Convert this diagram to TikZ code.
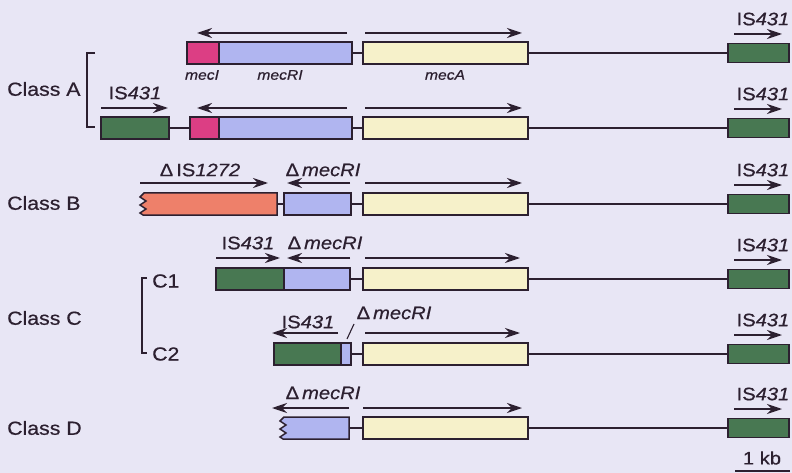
\documentclass[tikz,border=0pt]{standalone}
\usepackage{fontspec}
\setmainfont[FakeStretch=1.12,FakeBold=0.6]{Liberation Sans}
\usetikzlibrary{arrows.meta}
\definecolor{bgcol}{RGB}{232,230,245}
\definecolor{mecIcol}{RGB}{220,62,132}
\definecolor{mecRIcol}{RGB}{176,181,240}
\definecolor{mecAcol}{RGB}{246,241,202}
\definecolor{IScol}{RGB}{72,120,82}
\definecolor{ISBcol}{RGB}{238,128,106}
\definecolor{ink}{RGB}{44,32,48}
\tikzset{
  gene/.style={draw=ink, line width=1.5pt, rectangle, inner sep=0pt, outer sep=0pt, minimum height=22pt},
  rgene/.style={draw=ink, line width=1.5pt, rectangle, inner sep=0pt, outer sep=0pt, minimum height=19pt, minimum width=61pt, fill=IScol, anchor=west},
  arr/.style={draw=ink, line width=1.7pt, -{Stealth[length=15pt,width=10pt,inset=5pt,fill=ink]}},
  lnk/.style={draw=ink, line width=1.2pt},
  big/.style={font=\fontsize{18}{20}\selectfont, inner sep=0pt, text=ink},
  small/.style={font=\fontsize{14}{16}\selectfont\itshape, inner sep=0pt, text=ink},
  cls/.style={font=\fontsize{19}{21}\selectfont, inner sep=0pt, anchor=west, text=ink},
  brk/.style={draw=ink, line width=1.3pt},
}
\newcommand{\ISlbl}{IS\textit{431}}
\newcommand{\dmec}{Δ\,\textit{mecRI}}
\begin{document}
\begin{tikzpicture}[x=1pt,y=-1pt]
\fill[bgcol] (0,0) rectangle (792,473);
\useasboundingbox (0,0) rectangle (792,473);

% ---------- class labels ----------
\node[cls] (clA) at (7,89) {Class A};
\node[cls] (clB) at (7,203) {Class B};
\node[cls] (clC) at (7,318) {Class C};
\node[cls] (clD) at (7,428) {Class D};
\draw[brk] (95,53) -- (87,53) -- (87,127) -- (95,127);
\draw[brk] (147,278) -- (142,278) -- (142,353) -- (147,353);
\node[cls] (c1) at (152,281) {C1};
\node[cls] (c2) at (152,354) {C2};

% ---------- right IS431 column ----------
\foreach \r/\y in {1/53,2/128,3/204,4/279,5/354,6/428}{
  \node[rgene] (R\r) at (728,\y) {};
  \draw[arr] (734,\y-19) -- (782,\y-19);
  \node[big] at (763,\y-34) {\ISlbl};
}

% ---------- Class A, row 1 ----------
\node[gene, fill=mecIcol, minimum width=32pt, anchor=west] (a1I) at (187,53) {};
\node[gene, fill=mecRIcol, minimum width=133pt, anchor=west] (a1R) at (a1I.east) {};
\node[gene, fill=mecAcol, minimum width=165pt, anchor=west] (a1A) at (363,53) {};
\draw[lnk] (a1R.east) -- (a1A.west);
\draw[lnk] (a1A.east) -- (R1.west);
\draw[arr] (347,33) -- (197,33);
\draw[arr] (365,33) -- (522,33);
\node[small] at (202,75) {mecI};
\node[small] at (280,75) {mecRI};
\node[small] at (445,75) {mecA};

% ---------- Class A, row 2 ----------
\node[gene, fill=IScol, minimum width=68pt, anchor=west] (a2S) at (101,128) {};
\node[gene, fill=mecIcol, minimum width=29pt, anchor=west] (a2I) at (190,128) {};
\node[gene, fill=mecRIcol, minimum width=133pt, anchor=west] (a2R) at (a2I.east) {};
\node[gene, fill=mecAcol, minimum width=165pt, anchor=west] (a2A) at (363,128) {};
\draw[lnk] (a2S.east) -- (a2I.west);
\draw[lnk] (a2R.east) -- (a2A.west);
\draw[lnk] (a2A.east) -- (R2.west);
\draw[arr] (101,108) -- (168,108);
\draw[arr] (347,108) -- (197,108);
\draw[arr] (365,108) -- (522,108);
\node[big] at (135,93) {\ISlbl};

% ---------- Class B ----------
\fill[ISBcol] (277,193) -- (144,193) -- (140,197) -- (146,201) -- (140,205) -- (146,209) -- (140,213) -- (143,215) -- (277,215) -- cycle;
\draw[ink, line width=1.5pt, line join=miter] (277,193) -- (144,193) -- (140,197) -- (146,201) -- (140,205) -- (146,209) -- (140,213) -- (143,215) -- (277,215) -- cycle;
\coordinate (bS) at (277,204);
\node[gene, fill=mecRIcol, minimum width=67pt, anchor=west] (bR) at (284,204) {};
\node[gene, fill=mecAcol, minimum width=165pt, anchor=west] (bA) at (363,204) {};
\draw[lnk] (bS) -- (bR.west);
\draw[lnk] (bR.east) -- (bA.west);
\draw[lnk] (bA.east) -- (R3.west);
\draw[arr] (140,183) -- (268,183);
\draw[arr] (350,183) -- (287,183);
\draw[arr] (365,183) -- (522,183);
\node[big] at (200,170) {Δ\,IS\textit{1272}};
\node[big] at (323,170) {\dmec};

% ---------- Class C1 ----------
\node[gene, fill=IScol, minimum width=68pt, anchor=west] (c1S) at (216,279) {};
\node[gene, fill=mecRIcol, minimum width=66pt, anchor=west] (c1R) at (c1S.east) {};
\node[gene, fill=mecAcol, minimum width=165pt, anchor=west] (c1A) at (363,279) {};
\draw[lnk] (c1R.east) -- (c1A.west);
\draw[lnk] (c1A.east) -- (R4.west);
\draw[arr] (216,258) -- (280,258);
\draw[arr] (350,258) -- (287,258);
\draw[arr] (365,258) -- (520,258);
\node[big] at (248,243) {\ISlbl};
\node[big] at (325,243) {\dmec};

% ---------- Class C2 ----------
\node[gene, fill=IScol, minimum width=67pt, anchor=west] (c2S) at (274,354) {};
\node[gene, fill=mecRIcol, minimum width=10pt, anchor=west] (c2R) at (c2S.east) {};
\node[gene, fill=mecAcol, minimum width=165pt, anchor=west] (c2A) at (363,354) {};
\draw[lnk] (c2R.east) -- (c2A.west);
\draw[lnk] (c2A.east) -- (R5.west);
\draw[arr] (338,333) -- (272,333);
\draw[arr] (365,333) -- (520,333);
\node[big] at (308,322) {\ISlbl};
\node[big] (c2lab) at (394,313) {\dmec};
\draw[ink, line width=1.1pt] (347,339) -- (354,324);

% ---------- Class D ----------
\fill[mecRIcol] (349,417) -- (284,417) -- (280,421) -- (286,425) -- (280,429) -- (286,433) -- (280,437) -- (283,439) -- (349,439) -- cycle;
\draw[ink, line width=1.5pt] (349,417) -- (284,417) -- (280,421) -- (286,425) -- (280,429) -- (286,433) -- (280,437) -- (283,439) -- (349,439) -- cycle;
\coordinate (dR) at (349,428);
\node[gene, fill=mecAcol, minimum width=165pt, anchor=west] (dA) at (363,428) {};
\draw[lnk] (dR) -- (dA.west);
\draw[lnk] (dA.east) -- (R6.west);
\draw[arr] (349,408) -- (272,408);
\draw[arr] (363,408) -- (522,408);
\node[big] at (323,393) {\dmec};

% ---------- scale bar ----------
\node[big] (kb) at (762,458) {1 kb};
\draw[ink, line width=1.7pt] (735,471) -- (790,471);
\end{tikzpicture}
\end{document}
